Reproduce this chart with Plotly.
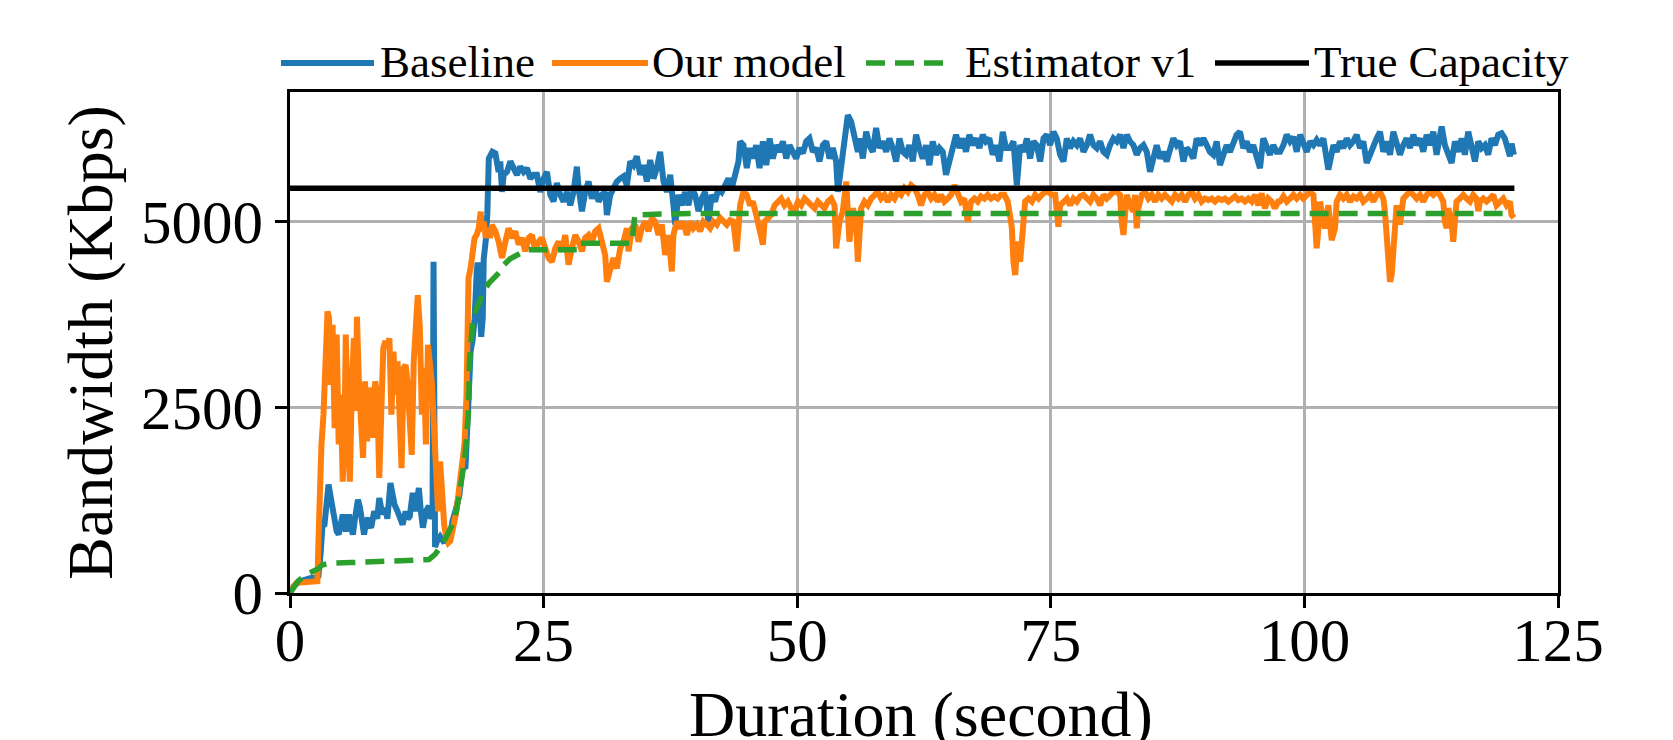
import plotly.graph_objects as go

# ---------------- data ----------------
baseline_t = [0.0, 0.3, 0.8, 1.5, 2.0, 2.5, 2.8, 3.0, 3.2, 3.4, 3.6, 3.8, 4.0, 4.2, 4.4, 4.6, 4.8, 5.0, 5.2, 5.4,
              5.5, 5.7, 5.8, 6.0, 6.2, 6.4, 6.7, 6.9, 7.0, 7.3, 7.5, 7.7, 7.9, 8.0, 8.3, 8.6, 8.8, 9.1, 9.4, 9.6,
              9.9, 10.1, 10.3, 10.6, 10.9, 11.1, 11.4, 11.6, 11.8, 12.1, 12.4, 12.7, 12.9, 13.1, 13.4, 13.7, 13.9,
              14.05, 14.15, 14.3, 14.5, 14.8, 15.1, 15.4, 15.7, 16.0, 16.4, 16.7, 17.0, 17.3, 17.6, 17.8, 18.0,
              18.2, 18.4, 18.5, 18.65, 18.85, 19.0, 19.1, 19.3, 19.45, 19.6, 19.8, 19.95,
              20.24, 20.57, 20.73, 20.90, 21.06, 21.39, 21.72, 22.05, 22.37, 22.70, 23.03, 23.36, 23.69, 24.02,
              24.34, 24.67, 25.00, 25.33, 25.66, 25.98, 26.31, 26.64, 26.97, 27.30, 27.63, 27.95, 28.28, 28.45,
              28.78, 29.10, 29.43, 29.76, 30.09, 30.42, 30.75, 31.07, 31.24, 31.57, 31.89, 32.22, 32.55, 32.88,
              33.21, 33.54, 33.86, 34.19, 34.52, 34.85, 35.18, 35.51, 35.83, 36.16, 36.49, 36.82, 37.15, 37.48,
              37.80, 37.97, 38.30, 38.62, 38.95, 39.28, 39.61, 39.94, 40.27, 40.59, 40.92, 41.25, 41.58, 41.91,
              42.24, 42.56, 42.89, 43.22, 43.55, 43.88, 44.21, 44.37, 44.70, 45.03, 45.35,
              45.63, 45.96, 46.29, 46.62, 46.95, 47.28, 47.60, 47.93, 48.26, 48.59, 48.92, 49.24, 49.57, 49.90,
              50.23, 50.56, 50.89, 51.21, 51.54, 51.87, 52.20, 52.53, 52.86, 53.18, 53.51, 53.84, 54.01, 54.17,
              54.50, 54.83, 54.99, 55.32, 55.65, 55.98, 56.14, 56.47, 56.80, 57.12, 57.45, 57.78, 58.11, 58.44,
              58.77, 59.09, 59.42, 59.75, 60.08, 60.41, 60.74, 61.06, 61.39, 61.72, 62.05, 62.38, 62.71, 63.03,
              63.36, 63.69, 64.02, 64.35, 64.67, 65.00, 65.33, 65.66, 65.99, 66.32, 66.64, 66.97, 67.30, 67.63,
              67.96, 68.29, 68.61, 68.94, 69.27, 69.60, 69.93, 70.26, 70.58, 70.99,
              71.32, 71.49, 71.65, 71.82, 71.98, 72.31, 72.64, 72.96, 73.29, 73.62, 73.95, 74.28, 74.61, 74.93,
              75.26, 75.59, 75.92, 76.25, 76.58, 76.90, 77.23, 77.56, 77.89, 78.22, 78.55, 78.87, 79.20, 79.53,
              79.86, 80.19, 80.52, 80.84, 81.17, 81.50, 81.83, 82.16, 82.49, 82.81, 83.14, 83.47, 83.80, 84.13,
              84.46, 84.78, 85.11, 85.44, 85.77, 86.10, 86.42, 86.75, 87.08, 87.41, 87.74, 88.07, 88.39, 88.72,
              89.05, 89.38, 89.71, 90.04, 90.36, 90.69, 91.02, 91.35, 91.68, 92.01, 92.33, 92.66, 92.99, 93.32,
              93.65, 93.98, 94.30, 94.63, 94.96, 95.29, 95.62, 95.95, 96.27, 96.60, 96.93, 97.26,
              97.60, 97.93, 98.26, 98.59, 98.92, 99.24, 99.57, 99.90, 100.23, 100.56, 100.89, 101.21, 101.54,
              101.87, 102.20, 102.36, 102.53, 102.86, 103.18, 103.51, 103.84, 104.17, 104.50, 104.83, 105.15,
              105.48, 105.81, 106.14, 106.47, 106.80, 107.12, 107.45, 107.78, 108.11, 108.44, 108.77, 109.09,
              109.42, 109.75, 110.08, 110.41, 110.74, 111.06, 111.39, 111.72, 112.05, 112.38, 112.71, 113.03,
              113.36, 113.53, 113.85, 114.18, 114.51, 114.84, 115.17, 115.50, 115.82, 116.15, 116.48, 116.81,
              117.14, 117.47, 117.79, 118.12, 118.45, 118.78, 119.11, 119.44, 119.76, 120.09, 120.26, 120.42, 120.65]
baseline_v = [0, 80, 150, 190, 200, 210, 230, 500, 900, 920, 1300, 1460, 1300, 1100, 960, 830, 790, 950, 1055, 900,
              830, 980, 1055, 900, 786, 1000, 1257, 1150, 1060, 786, 950, 1010, 900, 880, 1100, 1000, 1280, 1060, 1140, 1000,
              1480, 1250, 1190, 1100, 1000, 920, 1100, 1000, 1030, 1347, 1100, 1414, 1100, 880, 1100, 1170, 1000,
              1050, 4460, 620, 700, 760, 700, 720, 680, 960, 1150, 1320, 1680, 1700, 2600, 3250, 3400,
              3700, 4300, 4450, 3920, 3450, 3700, 4500, 4750, 5100, 5850, 5900, 5940,
              5920, 5670, 5810, 5400, 5630, 5670, 5810, 5720, 5630, 5740, 5670, 5720, 5580, 5630,
              5630, 5400, 5580, 5670, 5360, 5270, 5520, 5360, 5270, 5400, 5220, 5400, 5740, 5450,
              5140, 5400, 5540, 5310, 5450, 5270, 5360, 5400, 5090, 5360, 5470, 5540, 5580, 5610,
              5490, 5810, 5760, 5880, 5630, 5760, 5540, 5830, 5580, 5720, 5940, 5540, 5400, 5630,
              5220, 4960, 5360, 5220, 5400, 5220, 5450, 5360, 5140, 5310, 5400, 5000, 5360, 5270,
              5450, 5400, 5490, 5580, 5450, 5630, 5810, 6080, 6030, 5720, 5990,
              5850, 6030, 5720, 6080, 5760, 6120, 5850, 6030, 5940, 6080, 5850, 6030, 5940, 5850,
              5990, 5920, 6080, 6120, 5940, 5990, 5810, 6030, 6080, 5850, 5990, 5810, 5400, 5580,
              5850, 6390, 6435, 6345, 6120, 5940, 6120, 5850, 6210, 6030, 5940, 6260, 5990, 6080,
              5940, 6120, 5990, 5810, 6120, 5940, 5900, 6030, 5810, 6170, 5990, 5850, 6030, 5760,
              6080, 5900, 5990, 5940, 5630, 5810, 6030, 6170, 5990, 6120, 5940, 6170, 6030, 6120,
              5990, 6170, 6080, 6120, 5900, 6030, 5810, 6210, 5990, 5990,
              6080, 5810, 5490, 5760, 6030, 5940, 6120, 5850, 6080, 6030, 5810, 6120, 6170, 6030,
              6210, 6120, 5900, 5810, 6120, 5990, 6080, 6030, 6120, 5940, 6030, 6170, 6030, 5990,
              6080, 5940, 5900, 6030, 6120, 6080, 6170, 5990, 6170, 6080, 6030, 5900, 5990, 6030,
              5940, 5670, 5900, 6030, 5850, 5940, 5810, 5990, 6120, 6030, 6080, 5810, 5990, 5940,
              5850, 6120, 6030, 6120, 6030, 5940, 5900, 6080, 5760, 5900, 6030, 5940, 6080, 6170,
              6210, 5990, 6080, 5940, 6030, 5850, 5720, 6120, 6030, 5900, 6030, 5940,
              5940, 6030, 6170, 6080, 6140, 5940, 6170, 6030, 5940, 6080, 6030, 6100, 6030,
              6120, 5850, 5700, 5810, 6030, 5940, 6080, 5990, 6120, 6030, 6080, 6170,
              5990, 6080, 5790, 5900, 6030, 6120, 6210, 5940, 6080, 5900, 6210, 6080,
              5900, 6030, 6120, 5990, 6170, 6030, 6120, 5940, 6170, 6030, 6210, 5900,
              6170, 6280, 6030, 5900, 5790, 6080, 5940, 6120, 5900, 6210, 6030, 5810,
              6080, 5990, 6030, 5900, 6120, 6030, 6170, 6190, 6120, 5990, 5880, 6050, 5900]

model_t = [0.0, 0.3, 0.6, 1.0, 1.5, 2.0, 2.5, 2.7, 2.85, 2.95, 3.1, 3.3, 3.5, 3.7, 3.85, 4.0, 4.2, 4.4, 4.6, 4.8,
           5.0, 5.2, 5.35, 5.5, 5.7, 5.9, 6.1, 6.3, 6.45, 6.6, 6.8, 7.0, 7.2, 7.4, 7.6, 7.8, 8.0, 8.2, 8.4, 8.6,
           8.8, 9.0, 9.2, 9.4, 9.6, 9.8, 10.0, 10.2, 10.4, 10.6, 10.8, 11.0, 11.2, 11.4, 11.6, 11.8, 12.0, 12.2,
           12.4, 12.6, 12.8, 13.0, 13.2, 13.4, 13.6, 13.8, 14.0, 14.2, 14.4, 14.6, 14.8, 15.0, 15.2, 15.4, 15.6,
           15.8, 16.0, 16.2, 16.4, 16.6, 16.8, 17.0, 17.2, 17.4, 17.5, 17.6, 17.8, 18.0, 18.2, 18.4, 18.6, 18.8,
           18.9, 19.1, 19.3, 19.5, 19.7, 19.9,
           20.24, 20.57, 20.90, 21.23, 21.55, 21.88, 22.21, 22.54, 22.87, 23.19, 23.52, 23.85, 24.18, 24.51,
           24.84, 25.16, 25.49, 25.82, 26.15, 26.48, 26.81, 27.13, 27.46, 27.79, 28.12, 28.45, 28.78, 29.10,
           29.43, 29.76, 30.09, 30.42, 30.75, 31.07, 31.24, 31.57, 31.89, 32.22, 32.55, 32.88, 33.21, 33.37,
           33.70, 34.03, 34.36, 34.68, 35.01, 35.34, 35.67, 36.00, 36.33, 36.65, 36.98, 37.31, 37.64, 37.80,
           38.13, 38.46, 38.79, 39.12, 39.45, 39.77, 40.10, 40.43, 40.76, 41.09, 41.42, 41.74, 42.07, 42.40,
           42.73, 43.06, 43.39, 43.71, 44.04, 44.37, 44.70, 45.03, 45.35,
           45.63, 45.96, 46.29, 46.62, 46.78, 47.11, 47.44, 47.77, 48.10, 48.42, 48.75, 49.08, 49.41, 49.74,
           50.07, 50.39, 50.72, 51.05, 51.38, 51.71, 52.04, 52.36, 52.69, 53.02, 53.35, 53.68, 53.84, 54.17,
           54.50, 54.83, 54.99, 55.15, 55.48, 55.81, 55.98, 56.30, 56.63, 56.96, 57.29, 57.62, 57.94, 58.27,
           58.60, 58.93, 59.26, 59.59, 59.91, 60.24, 60.57, 60.90, 61.23, 61.56, 61.88, 62.21, 62.54, 62.87,
           63.20, 63.53, 63.85, 64.18, 64.51, 64.84, 65.17, 65.50, 65.82, 66.15, 66.48, 66.81, 67.14, 67.47,
           67.79, 68.12, 68.45, 68.78, 69.11, 69.44, 69.76, 70.09, 70.42, 70.75, 71.08,
           71.16, 71.32, 71.49, 71.65, 71.82, 71.98, 72.14, 72.31, 72.47, 72.80, 73.13, 73.46, 73.79, 74.11,
           74.44, 74.77, 75.10, 75.43, 75.59, 75.75, 75.92, 76.25, 76.58, 76.90, 77.23, 77.56, 77.89, 78.22,
           78.55, 78.87, 79.20, 79.53, 79.86, 80.19, 80.52, 80.84, 81.17, 81.50, 81.83, 81.99, 82.16, 82.32,
           82.49, 82.81, 83.14, 83.30, 83.47, 83.63, 83.96, 84.29, 84.62, 84.95, 85.28, 85.60, 85.93, 86.26,
           86.59, 86.92, 87.25, 87.57, 87.90, 88.23, 88.56, 88.89, 89.22, 89.54, 89.87, 90.20, 90.53, 90.86,
           91.19, 91.51, 91.84, 92.17, 92.50, 92.83, 93.16, 93.48, 93.81, 94.14, 94.47, 94.80, 95.12, 95.45,
           95.78, 96.11, 96.44, 96.77, 97.09, 97.42,
           97.60, 97.93, 98.26, 98.59, 98.92, 99.24, 99.57, 99.90, 100.23, 100.56, 100.89, 101.05, 101.21,
           101.38, 101.54, 101.87, 102.04, 102.36, 102.53, 102.69, 103.02, 103.18, 103.51, 103.84, 104.17,
           104.50, 104.83, 105.15, 105.48, 105.81, 106.14, 106.47, 106.80, 107.12, 107.45, 107.78, 107.94,
           108.11, 108.27, 108.44, 108.60, 108.77, 108.93, 109.09, 109.42, 109.59, 109.75, 110.08, 110.41,
           110.74, 111.06, 111.39, 111.72, 112.05, 112.38, 112.71, 113.03, 113.36, 113.69, 113.85, 114.02,
           114.18, 114.51, 114.67, 114.84, 115.00, 115.33, 115.66, 115.99, 116.32, 116.64, 116.97, 117.14,
           117.30, 117.63, 117.96, 118.29, 118.62, 118.94, 119.27, 119.60, 119.93, 120.26, 120.42, 120.65]
model_v = [20, 90, 130, 140, 150, 160, 170, 160, 900, 1770, 2000, 2400, 3000, 3790, 3700, 2800, 3610, 2220, 3480, 2000,
           2670, 1500, 2000, 3480, 2220, 1500, 2800, 3430, 2450, 3720, 2800, 2220, 1820, 2850, 2040, 2760, 2670, 2090, 2850, 2670,
           1550, 2450, 3300, 3390, 3300, 3430, 2400, 3250, 2670, 3120, 2090, 1680, 3030, 3070, 2800, 2220, 1860, 3120,
           3790, 4010, 3570, 2400, 3030, 2000, 3340, 3120, 2800, 2220, 1500, 1100, 1770, 1100, 920, 740, 675,
           700, 880, 960, 1100, 1320, 1550, 1860, 2000, 2670, 3570, 4240, 4370, 4640, 4780, 4820, 4910, 5135,
           4870, 5000, 4780, 4910, 4780, 4955,
           4870, 4730, 4510, 4730, 4910, 4780, 4870, 4690, 4780, 4600, 4780, 4820, 4600, 4730,
           4780, 4640, 4510, 4460, 4640, 4730, 4600, 4820, 4420, 4640, 4820, 4730, 4600, 4780,
           4820, 4730, 4870, 4910, 4730, 4550, 4190, 4370, 4510, 4370, 4640, 4730, 4910, 4600,
           4910, 4960, 4730, 4910, 5000, 4870, 5050, 5000, 4820, 4960, 4550, 4820, 4330, 4820,
           5000, 4910, 5000, 4820, 5000, 4910, 4960, 4870, 5000, 4960, 4910, 5000, 4960, 5050,
           5000, 4960, 5020, 5000, 4600, 5220, 5400, 5360, 5220,
           5270, 5090, 4910, 4690, 5000, 5050, 5090, 5220, 5270, 5310, 5220, 5270, 5180, 5140,
           5270, 5220, 5310, 5270, 5220, 5180, 5270, 5220, 5180, 5270, 5310, 5220, 4640, 5000,
           5140, 5540, 5140, 4730, 5180, 5000, 4460, 5180, 5270, 5220, 5310, 5360, 5400, 5310,
           5360, 5270, 5360, 5310, 5400, 5360, 5450, 5400, 5490, 5450, 5360, 5220, 5360, 5400,
           5310, 5360, 5270, 5360, 5270, 5310, 5360, 5490, 5360, 5270, 5310, 5000, 5270, 5310,
           5270, 5340, 5310, 5360, 5310, 5340, 5310, 5360, 5360, 5270, 5000,
           4910, 4460, 4280, 4600, 4730, 4460, 4730, 5050, 5270, 5310, 5270, 5360, 5310, 5360,
           5400, 5400, 5360, 5360, 5090, 4930, 5220, 5270, 5310, 5220, 5310, 5270, 5340, 5360,
           5310, 5270, 5360, 5310, 5220, 5360, 5310, 5360, 5400, 5400, 5360, 5000, 4820, 5090,
           5360, 5220, 5140, 5360, 4910, 5180, 5360, 5400, 5310, 5360, 5270, 5360, 5310, 5360,
           5310, 5270, 5360, 5310, 5360, 5270, 5360, 5400, 5310, 5360, 5270, 5310, 5290, 5310,
           5270, 5310, 5290, 5310, 5270, 5310, 5340, 5290, 5310, 5270, 5310, 5270, 5360, 5220,
           5380, 5180, 5310, 5270, 5180, 5270,
           5270, 5340, 5270, 5310, 5360, 5310, 5360, 5310, 5360, 5400, 5360, 5000, 4640,
           4910, 5270, 5000, 4910, 5220, 4820, 4750, 4910, 5270, 5360, 5310, 5360,
           5270, 5340, 5310, 5360, 5270, 5310, 5360, 5270, 5360, 5400, 5310, 5140,
           4780, 4460, 4190, 4280, 4640, 5000, 5220, 4960, 5140, 5310, 5360, 5400,
           5360, 5310, 5360, 5270, 5360, 5400, 5360, 5400, 5360, 5270, 5000, 4910,
           5180, 5000, 4730, 5000, 5270, 5310, 5360, 5310, 5270, 5360, 5310, 5140,
           5270, 5310, 5270, 5310, 5360, 5220, 5270, 5310, 5220, 5270, 5090, 5050]

estimator_t = [0.0, 0.3, 0.8, 1.6, 2.2, 2.7, 3.2, 4.0, 6.0, 8.0, 10.0, 12.0, 13.7, 14.3, 15.0, 15.5, 16.0, 16.4,
               16.7, 17.0, 17.2, 17.4, 17.6, 17.7, 18.0, 18.3, 18.65, 19.1, 19.6, 20.1, 20.6, 21.1, 21.7, 22.4,
               23.4, 28.4, 28.5, 33.7, 34.0, 36.0, 40.0, 120.5]
estimator_v = [0, 70, 160, 250, 290, 320, 380, 400, 410, 420, 430, 440, 450, 520, 650, 780, 920, 1100,
               1325, 1550, 1770, 2100, 2450, 3120, 3650, 3800, 3920, 4050, 4170, 4250, 4310, 4420, 4500, 4550,
               4620, 4620, 4710, 4710, 5090, 5100, 5110, 5110]

capacity_t = [0.0, 120.7]
capacity_v = [5450, 5450]

series_names = ["Baseline", "Our model", "Estimator v1", "True Capacity"]
series_colors = ["#1f77b4", "#ff7f0e", "#2ca02c", "#000000"]
series_widths = [6, 6, 5.5, 5.5]

x_ticks = [0, 25, 50, 75, 100, 125]
y_ticks = [0, 2500, 5000]
x_label = "Duration (second)"
y_label = "Bandwidth (Kbps)"

# ---------------- layout geometry (pixels) ----------------
W, H = 1673, 740
L, R, T, B = 290, 1558, 92, 593.5
FONT = "Liberation Serif, Times New Roman, serif"


def px(xp):
    return (xp - L) / (R - L)


def py(yp):
    return (B - yp) / (B - T)


fig = go.Figure()
dash_style = "19px,10px"
data = [(baseline_t, baseline_v, "solid"), (model_t, model_v, "solid"),
        (estimator_t, estimator_v, dash_style), (capacity_t, capacity_v, "solid")]
for (tx, vy, dash), name, col, lw in zip(data, series_names, series_colors, series_widths):
    fig.add_trace(go.Scatter(x=tx, y=vy, mode="lines", name=name, showlegend=False,
                             line=dict(color=col, width=lw, dash=dash)))

# custom legend (matplotlib-like long handles)
legend_items = [
    (281, 374, 378, "solid"),
    (552, 648, 650, "solid"),
    (866, 947, 963, dash_style),
    (1215, 1309, 1312, "solid"),
]
shapes = []
annotations = []
leg_y = 63
for (x0, x1, xt, dash), name, col, lw in zip(legend_items, series_names, series_colors, series_widths):
    shapes.append(dict(type="line", xref="paper", yref="paper", x0=px(x0), x1=px(x1),
                       y0=py(leg_y), y1=py(leg_y), line=dict(color=col, width=lw, dash=dash)))
    annotations.append(dict(text=name, xref="paper", yref="paper", x=px(xt), y=py(leg_y - 1),
                            xanchor="left", yanchor="middle", showarrow=False,
                            font=dict(family=FONT, size=45, color="black")))

annotations.append(dict(text=x_label, xref="paper", yref="paper", x=px(921), y=py(715),
                        xanchor="center", yanchor="middle", showarrow=False,
                        font=dict(family=FONT, size=64, color="black")))
annotations.append(dict(text=y_label, xref="paper", yref="paper", x=px(91), y=py(343),
                        xanchor="center", yanchor="middle", showarrow=False, textangle=-90,
                        font=dict(family=FONT, size=64, color="black")))

axis_common = dict(showline=True, linecolor="black", linewidth=2.5, mirror=True,
                   ticks="outside", ticklen=12, tickwidth=2.5, tickcolor="black",
                   showgrid=True, gridcolor="#b0b0b0", gridwidth=2.5, zeroline=False,
                   tickfont=dict(family=FONT, size=61, color="black"))

fig.update_layout(
    width=W, height=H, autosize=False,
    margin=dict(l=L, r=W - R, t=T, b=H - B, pad=0),
    paper_bgcolor="white", plot_bgcolor="white",
    shapes=shapes, annotations=annotations,
    xaxis=dict(range=[0, 125], tickmode="array", tickvals=x_ticks,
               ticktext=[str(v) for v in x_ticks], ticklabelstandoff=-20, **axis_common),
    yaxis=dict(range=[0, 6745], tickmode="array", tickvals=y_ticks,
               ticktext=[str(v) for v in y_ticks], **axis_common),
)

fig.write_html("out.html")
